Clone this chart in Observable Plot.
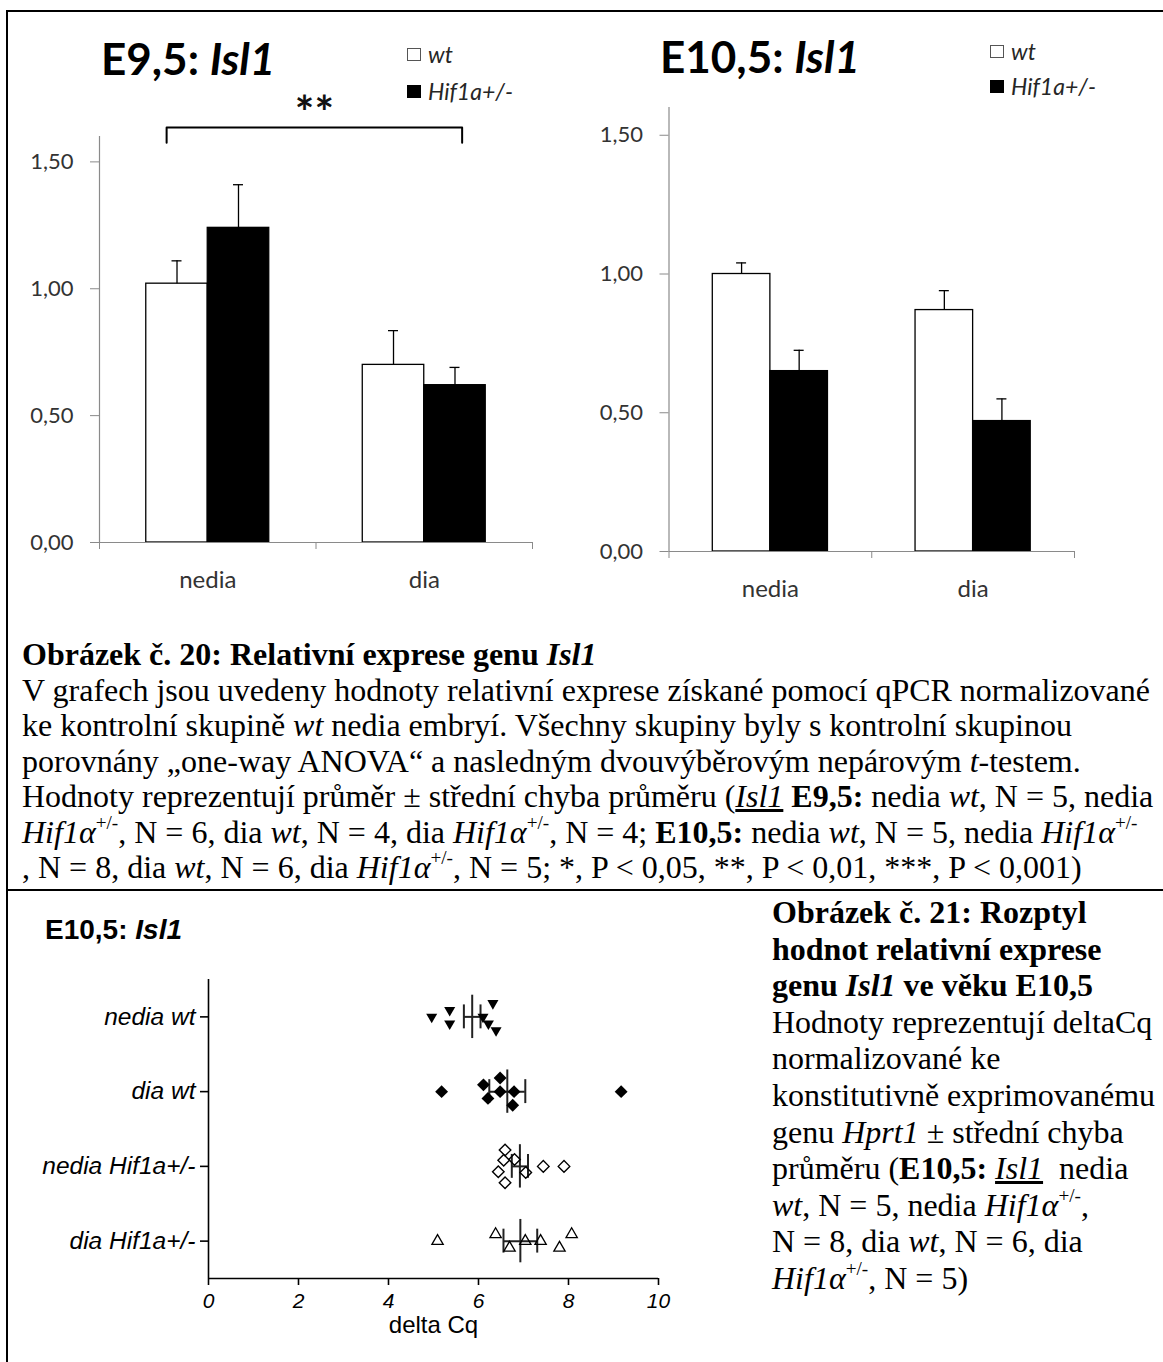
<!DOCTYPE html>
<html>
<head>
<meta charset="utf-8">
<script src="https://cdn.jsdelivr.net/npm/d3@7"></script>
<script src="https://cdn.jsdelivr.net/npm/@observablehq/plot@0.6"></script>
<style>
  html, body { margin: 0; padding: 0; background: #fff; }
  #page { position: relative; width: 1163px; height: 1362px; overflow: hidden; background: #fff; }
  .abs { position: absolute; }
  .line { position: absolute; background: #000; }
  .title { position: absolute; font-family: Lato, sans-serif; font-weight: 700; font-size: 44px; line-height: 44px; white-space: nowrap; color: #000; }
  .legend { position: absolute; font-family: Lato, sans-serif; font-style: italic; font-size: 23px; line-height: 26px; height: 26px; display: flex; align-items: center; white-space: nowrap; color: #262626; }
  .sw { display: inline-block; width: 14px; height: 13px; margin-right: 7px; box-sizing: border-box; }
  .sw.wt { background: #fff; border: 1px solid #555; }
  .sw.hif { background: #000; }
  .cap { position: absolute; font-family: "Liberation Serif", "Times New Roman", serif; font-size: 32px; white-space: nowrap; color: #000; }
  .cap sup { font-size: 0.6em; line-height: 0; vertical-align: 0; position: relative; top: -0.72em; }
  .stitle { position: absolute; font-family: "Liberation Sans", Arial, sans-serif; font-weight: 700; font-size: 28px; line-height: 28px; white-space: nowrap; }
</style>
</head>
<body>
<div id="page">
  <div id="chartA" class="abs" style="left:0;top:0"></div>
  <div id="chartB" class="abs" style="left:580px;top:0"></div>
  <div id="chartC" class="abs" style="left:0;top:950px"></div>

  <div class="title" style="left:101px;top:36px">E9,5: <i>Isl1</i></div>
  <div class="legend" style="left:407px;top:41px"><span class="sw wt"></span>wt</div>
  <div class="legend" style="left:407px;top:78px"><span class="sw hif"></span>Hif1a+/-</div>

  <div class="title" style="left:660px;top:34px">E10,5: <i>Isl1</i></div>
  <div class="legend" style="left:990px;top:38px"><span class="sw wt"></span>wt</div>
  <div class="legend" style="left:990px;top:73px"><span class="sw hif"></span>Hif1a+/-</div>

  <div class="cap" style="left:22px;top:637px;line-height:35.5px">
    <b>Obrázek č. 20: Relativní exprese genu <i>Isl1</i></b><br>
    V grafech jsou uvedeny hodnoty relativní exprese získané pomocí qPCR normalizované<br>
    ke kontrolní skupině <i>wt</i> nedia embryí. Všechny skupiny byly s kontrolní skupinou<br>
    porovnány „one-way ANOVA“ a nasledným dvouvýběrovým nepárovým <i>t</i>-testem.<br>
    Hodnoty reprezentují průměr ± střední chyba průměru (<u><i>Isl1</i></u> <b>E9,5:</b> nedia <i>wt</i>, N = 5, nedia<br>
    <i>Hif1α</i><sup>+/-</sup>, N = 6, dia <i>wt</i>, N = 4, dia <i>Hif1α</i><sup>+/-</sup>, N = 4; <b>E10,5:</b> nedia <i>wt</i>, N = 5, nedia <i>Hif1α</i><sup>+/-</sup><br>
    , N = 8, dia <i>wt</i>, N = 6, dia <i>Hif1α</i><sup>+/-</sup>, N = 5; *, P &lt; 0,05, **, P &lt; 0,01, ***, P &lt; 0,001)
  </div>

  <div class="stitle" style="left:45px;top:916px">E10,5: <i>Isl1</i></div>

  <div class="cap" style="left:772px;top:894px;line-height:36.6px">
    <b>Obrázek č. 21: Rozptyl</b><br>
    <b>hodnot relativní exprese</b><br>
    <b>genu <i>Isl1</i> ve věku E10,5</b><br>
    Hodnoty reprezentují deltaCq<br>
    normalizované ke<br>
    konstitutivně exprimovanému<br>
    genu <i>Hprt1</i> ± střední chyba<br>
    průměru (<b>E10,5:</b> <u><i>Isl1</i></u>&nbsp; nedia<br>
    <i>wt</i>, N = 5, nedia <i>Hif1α</i><sup>+/-</sup>,<br>
    N = 8, dia <i>wt</i>, N = 6, dia<br>
    <i>Hif1α</i><sup>+/-</sup>, N = 5)
  </div>

  <!-- table rules -->
  <div class="line" style="left:6px;top:10px;width:1157px;height:2px"></div>
  <div class="line" style="left:6px;top:10px;width:2px;height:1352px"></div>
  <div class="line" style="left:6px;top:889px;width:1157px;height:2px"></div>
</div>

<script>
// ---- Relative Isl1 expression (mean ± SEM) ----
const groups = ["nedia", "dia"];
const genotypes = ["wt", "Hif1a+/-"];
const yTicks = [0, 0.5, 1, 1.5];

const e95Wt = [1.02, 0.70];
const e95WtSem = [0.09, 0.135];
const e95Hif = [1.24, 0.62];
const e95HifSem = [0.17, 0.07];

const e105Wt = [1.00, 0.87];
const e105WtSem = [0.04, 0.07];
const e105Hif = [0.65, 0.47];
const e105HifSem = [0.075, 0.08];

// significance bracket over the E9,5 panel (ends in category units)
const sigLabel = "**";
const sigFrom = 0.31;
const sigTo = 1.675;
const sigLevel = 1.635;
const sigTip = 1.575;

// ---- E10,5 delta Cq scatter ----
const cqRows = ["nedia wt", "dia wt", "nedia Hif1a+/-", "dia Hif1a+/-"];
const cqTicks = [0, 2, 4, 6, 8, 10];
const nediaWtCq = [4.96, 5.36, 5.36, 6.10, 6.22, 6.39, 6.32];
const nediaWtLane = [0, -1, 1, 0, 1, 2, -2];
const diaWtCq = [5.18, 6.11, 6.48, 6.48, 6.79, 6.21, 6.76, 9.17];
const diaWtLane = [0, -1, -2, 0, 0, 1, 2, 0];
const nediaHifCq = [6.59, 6.80, 6.56, 6.44, 7.05, 7.44, 7.90, 6.59];
const nediaHifLane = [-2.4, -1, -0.9, 0.8, 0.9, 0, 0, 2.4];
const diaHifCq = [5.09, 6.38, 6.69, 7.04, 7.38, 7.80, 8.07];
const diaHifLane = [0, -1, 1, 0, 0, 1, -1];
const cqMean = [5.86, 6.64, 6.92, 6.93];
const cqSem = [0.185, 0.40, 0.18, 0.375];

const fmt = d => d.toFixed(2).replace(".", ",");
const AXIS_GREY = "#8a8a8a";
const BAR_W = 0.284;           // bar width, in category-band units

function barRows(wt, wtSem, hif, hifSem) {
  const rows = [];
  groups.forEach((g, i) => {
    rows.push({group: g, genotype: genotypes[0], value: wt[i], sem: wtSem[i], x1: i + 0.5 - BAR_W, x2: i + 0.5});
    rows.push({group: g, genotype: genotypes[1], value: hif[i], sem: hifSem[i], x1: i + 0.5, x2: i + 0.5 + BAR_W});
  });
  return rows;
}
const mid = d => (d.x1 + d.x2) / 2;

function barChart({rows, width, height, marginLeft, marginRight, marginTop, marginBottom, extra = []}) {
  const cap = 5 / ((width - marginLeft - marginRight) / 2); // half cap width (5px) in x units
  return Plot.plot({
    width, height, marginLeft, marginRight, marginTop, marginBottom,
    x: {domain: [0, 2]},
    y: {domain: [0, 1.6]},
    style: {fontFamily: "Lato, sans-serif", background: "transparent", overflow: "visible"},
    marks: [
      Plot.axisY({ticks: yTicks, tickFormat: fmt, tickSize: 9, tickPadding: 17, stroke: AXIS_GREY, fill: "#333", fontSize: 22, label: null}),
      Plot.axisX({ticks: [0, 1, 2], tickSize: 7, tickFormat: () => "", stroke: AXIS_GREY, label: null}),
      Plot.axisX({ticks: [0.5, 1.5], tickSize: 0, tickPadding: 28, tickFormat: d => groups[Math.floor(d)], fill: "#333", fontSize: 24, label: null}),
      Plot.ruleX([0], {stroke: AXIS_GREY, strokeWidth: 1.2}),
      Plot.rectY(rows.filter(d => d.genotype === "wt"), {x1: "x1", x2: "x2", y1: 0, y2: "value", fill: "white", stroke: "black", strokeWidth: 1.3}),
      Plot.rectY(rows.filter(d => d.genotype !== "wt"), {x1: "x1", x2: "x2", y1: 0, y2: "value", fill: "black", stroke: "black", strokeWidth: 1.3}),
      Plot.ruleY([0], {stroke: AXIS_GREY, strokeWidth: 1.2}),
      Plot.ruleX(rows, {x: mid, y1: "value", y2: d => d.value + d.sem, stroke: "black", strokeWidth: 1.3}),
      Plot.ruleY(rows, {y: d => d.value + d.sem, x1: d => mid(d) - cap, x2: d => mid(d) + cap, stroke: "black", strokeWidth: 1.3}),
      ...extra
    ]
  });
}

// E9,5 panel
const rowsA = barRows(e95Wt, e95WtSem, e95Hif, e95HifSem);
const bracket = [
  {x: sigFrom, y: sigTip}, {x: sigFrom, y: sigLevel}, {x: sigTo, y: sigLevel}, {x: sigTo, y: sigTip}
];
document.getElementById("chartA").append(barChart({
  rows: rowsA, width: 580, height: 610,
  marginLeft: 99, marginRight: 48, marginTop: 136, marginBottom: 68,
  extra: [
    Plot.line(bracket, {x: "x", y: "y", stroke: "black", strokeWidth: 2, strokeLinejoin: "round"}),
    Plot.text([sigLabel], {x: (sigFrom + sigTo) / 2, y: sigLevel, text: d => d, dy: -13, fontSize: 46, fontWeight: 700, fill: "#111"})
  ]
}));

// E10,5 panel
const rowsB = barRows(e105Wt, e105WtSem, e105Hif, e105HifSem);
document.getElementById("chartB").append(barChart({
  rows: rowsB, width: 583, height: 620,
  marginLeft: 88.5, marginRight: 89, marginTop: 107, marginBottom: 69
}));

// delta Cq scatter, rows from top (nedia wt) to bottom (dia Hif1a+/-)
const LANE = 0.091;                       // vertical spread between stacked points
const rowPos = i => cqRows.length - i;
const pts = (vals, lanes, row) => vals.map((v, k) => ({row, value: v, y: rowPos(row) - lanes[k] * LANE}));
const sqrt3 = Math.sqrt(3);
const triangleDown = {
  draw(ctx, size) {
    const y = -Math.sqrt(size / (sqrt3 * 3));
    ctx.moveTo(0, -y * 2);
    ctx.lineTo(-sqrt3 * y, y);
    ctx.lineTo(sqrt3 * y, y);
    ctx.closePath();
  }
};
const stats = cqRows.map((name, i) => ({row: i, mean: cqMean[i], sem: cqSem[i], y: rowPos(i)}));

document.getElementById("chartC").append(Plot.plot({
  width: 700, height: 412,
  marginLeft: 208, marginRight: 42, marginTop: 29, marginBottom: 84,
  x: {domain: [0, 10]},
  y: {domain: [0.5, 4.5]},
  style: {fontFamily: "'Liberation Sans', Arial, sans-serif", background: "transparent", overflow: "visible", color: "#000"},
  marks: [
    Plot.axisX({ticks: cqTicks, tickSize: 7, tickPadding: 8, fontSize: 21, fontStyle: "italic", strokeWidth: 1.6, label: null}),
    Plot.axisY({ticks: [1, 2, 3, 4], tickFormat: p => cqRows[cqRows.length - p], tickSize: 8, tickPadding: 5, fontSize: 24.5, fontStyle: "italic", strokeWidth: 1.6, label: null}),
    Plot.ruleX([0], {strokeWidth: 1.6}),
    Plot.ruleY([0.5], {strokeWidth: 1.6}),
    Plot.text(["delta Cq"], {frameAnchor: "bottom", text: d => d, dy: 54, fontSize: 24}),
    // mean ± SEM
    Plot.ruleY(stats, {y: "y", x1: d => d.mean - d.sem, x2: d => d.mean + d.sem, stroke: "#222", strokeWidth: 2}),
    Plot.ruleX(stats, {x: "mean", y1: d => d.y - 0.29, y2: d => d.y + 0.29, stroke: "#222", strokeWidth: 2}),
    Plot.ruleX(stats, {x: d => d.mean - d.sem, y1: d => d.y - 0.16, y2: d => d.y + 0.16, stroke: "#222", strokeWidth: 2}),
    Plot.ruleX(stats, {x: d => d.mean + d.sem, y1: d => d.y - 0.16, y2: d => d.y + 0.16, stroke: "#222", strokeWidth: 2}),
    // individual embryos
    Plot.dot(pts(nediaWtCq, nediaWtLane, 0), {x: "value", y: "y", symbol: triangleDown, r: 4.1, fill: "black", stroke: "none"}),
    Plot.dot(pts(diaWtCq, diaWtLane, 1), {x: "value", y: "y", symbol: "diamond2", r: 5.8, fill: "black", stroke: "none"}),
    Plot.dot(pts(nediaHifCq, nediaHifLane, 2), {x: "value", y: "y", symbol: "diamond2", r: 5.2, fill: "none", stroke: "black", strokeWidth: 1.4}),
    Plot.dot(pts(diaHifCq, diaHifLane, 3), {x: "value", y: "y", symbol: "triangle", r: 4.2, fill: "none", stroke: "black", strokeWidth: 1.3})
  ]
}));
</script>
</body>
</html>
